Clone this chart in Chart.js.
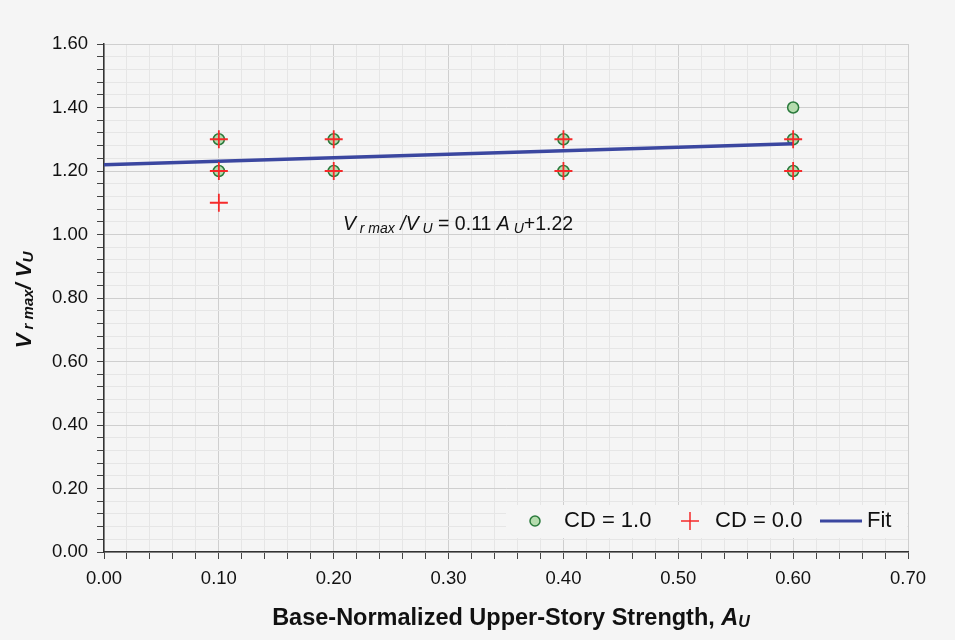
<!DOCTYPE html>
<html>
<head>
<meta charset="utf-8">
<script src="https://cdn.jsdelivr.net/npm/chart.js@4.4.1/dist/chart.umd.min.js"></script>
<style>
  html, body { margin: 0; padding: 0; background: #f5f5f5; }
  #wrap { width: 955px; height: 640px; }
</style>
</head>
<body>
<div id="wrap"><canvas id="chart" width="955" height="640"></canvas></div>
<script>
// data
const cd1X = [0.1, 0.1, 0.2, 0.2, 0.4, 0.4, 0.6, 0.6, 0.6]
const cd1Y = [1.3, 1.2, 1.3, 1.2, 1.3, 1.2, 1.4, 1.3, 1.2]
const cd0X = [0.1, 0.1, 0.1, 0.2, 0.2, 0.4, 0.4, 0.6, 0.6]
const cd0Y = [1.3, 1.2, 1.1, 1.3, 1.2, 1.3, 1.2, 1.3, 1.2]
const fitX = [0.0, 0.6]
const fitY = [1.22, 1.286]
const legendLabels = ['CD = 1.0', 'CD = 0.0', 'Fit']

const FONT = '"Liberation Sans", Arial, sans-serif'
const BG = '#f5f5f5'
const GREEN_FILL = '#b5dcae'
const GREEN_EDGE = '#2a7a3c'
const RED = '#f52a2a'
const BLUE = '#3b47a0'

const pts = (xs, ys) => xs.map((x, i) => ({ x: x, y: ys[i] }))
const isMajor = (v, step) => Math.abs(v / step - Math.round(v / step)) < 1e-6

// draw a run of text pieces: [text, fontSize, style, dy]
function richText(ctx, x, y, parts) {
  let cx = x
  parts.forEach(p => {
    ctx.font = `${p[2] || ''} ${p[1]}px ${FONT}`
    ctx.fillText(p[0], cx, y + (p[3] || 0))
    cx += ctx.measureText(p[0]).width
  })
  return cx - x
}
function richWidth(ctx, parts) {
  let w = 0
  parts.forEach(p => {
    ctx.font = `${p[2] || ''} ${p[1]}px ${FONT}`
    w += ctx.measureText(p[0]).width
  })
  return w
}

const decor = {
  id: 'decor',
  beforeDraw(chart) {
    const ctx = chart.ctx
    ctx.save()
    ctx.fillStyle = BG
    ctx.fillRect(0, 0, chart.width, chart.height)
    ctx.restore()
  },
  afterDraw(chart) {
    const ctx = chart.ctx
    const area = chart.chartArea
    const xs = chart.scales.x
    const ys = chart.scales.y
    ctx.save()
    ctx.fillStyle = '#111'
    ctx.textBaseline = 'middle'

    // equation
    richText(ctx, xs.getPixelForValue(0.208), ys.getPixelForValue(1.03), [
      ['V', 19.5, 'italic'], [' r max', 14, 'italic', 4], [' /V', 19.5, 'italic'],
      [' U', 14, 'italic', 4], [' = 0.11', 19.5], [' A', 19.5, 'italic'],
      [' U', 14, 'italic', 4], ['+1.22', 19.5]
    ])

    // x title
    const xt = [['Base-Normalized Upper-Story Strength, ', 23.5, 'bold'], ['A', 23.5, 'bold italic'], ['U', 16, 'bold italic', 4]]
    richText(ctx, 511 - richWidth(ctx, xt) / 2, 619, xt)

    // y title
    const yt = [['V', 22, 'bold italic'], [' r max', 15, 'bold italic', 4], ['/ V', 22, 'bold italic'], ['U', 15, 'bold italic', 4]]
    ctx.save()
    ctx.translate(25, 300)
    ctx.rotate(-Math.PI / 2)
    richText(ctx, -richWidth(ctx, yt) / 2, 0, yt)
    ctx.restore()

    // legend inside the plot, bottom right
    const ly = 521
    ctx.fillStyle = BG
    ctx.fillRect(506, 505, area.right - 507, 33)
    ctx.font = `22px ${FONT}`
    ctx.beginPath()
    ctx.arc(535, ly, 5, 0, Math.PI * 2)
    ctx.fillStyle = GREEN_FILL
    ctx.fill()
    ctx.strokeStyle = GREEN_EDGE
    ctx.lineWidth = 1.5
    ctx.stroke()
    ctx.fillStyle = '#111'
    ctx.fillText(legendLabels[0], 564, ly)
    ctx.strokeStyle = RED
    ctx.lineWidth = 1.5
    ctx.beginPath()
    ctx.moveTo(681, ly); ctx.lineTo(699, ly)
    ctx.moveTo(690, ly - 9); ctx.lineTo(690, ly + 9)
    ctx.stroke()
    ctx.fillText(legendLabels[1], 715, ly)
    ctx.strokeStyle = BLUE
    ctx.lineWidth = 3
    ctx.beginPath()
    ctx.moveTo(820, ly); ctx.lineTo(862, ly)
    ctx.stroke()
    ctx.fillText(legendLabels[2], 867, ly)
    ctx.restore()
  }
}

new Chart(document.getElementById('chart'), {
  type: 'scatter',
  data: {
    datasets: [
      {
        label: legendLabels[0],
        data: pts(cd1X, cd1Y),
        pointStyle: 'circle',
        pointRadius: 5.5,
        backgroundColor: GREEN_FILL,
        borderColor: GREEN_EDGE,
        borderWidth: 1.5,
        order: 2
      },
      {
        label: legendLabels[2],
        type: 'line',
        data: pts(fitX, fitY),
        borderColor: BLUE,
        borderWidth: 3.5,
        pointRadius: 0,
        fill: false,
        order: 1
      },
      {
        label: legendLabels[1],
        data: pts(cd0X, cd0Y),
        pointStyle: 'cross',
        pointRadius: 9,
        borderColor: RED,
        borderWidth: 1.8,
        order: 0
      }
    ]
  },
  options: {
    responsive: false,
    animation: false,
    layout: { padding: { top: 44, right: 47, left: 0, bottom: 0 } },
    plugins: {
      legend: { display: false },
      tooltip: { enabled: false }
    },
    scales: {
      x: {
        type: 'linear',
        min: 0,
        max: 0.7,
        afterFit: s => { s.height = 88 },
        border: { color: '#333', width: 1.5 },
        grid: {
          color: c => isMajor(c.tick.value, 0.1) ? '#cfcfcf' : '#e6e6e6',
          tickColor: '#444',
          tickLength: 7
        },
        ticks: {
          stepSize: 0.02,
          maxTicksLimit: 100,
          autoSkip: false,
          maxRotation: 0,
          padding: 9,
          color: '#111',
          font: { family: FONT, size: 18.5 },
          callback: v => isMajor(v, 0.1) ? v.toFixed(2) : ''
        }
      },
      y: {
        min: 0,
        max: 1.6,
        afterFit: s => { s.width = 104 },
        border: { color: '#333', width: 1.5 },
        grid: {
          color: c => isMajor(c.tick.value, 0.2) ? '#cfcfcf' : '#e6e6e6',
          tickColor: '#444',
          tickLength: 7
        },
        ticks: {
          stepSize: 0.04,
          maxTicksLimit: 100,
          autoSkip: false,
          padding: 9,
          color: '#111',
          font: { family: FONT, size: 18.5 },
          callback: v => isMajor(v, 0.2) ? v.toFixed(2) : ''
        }
      }
    }
  },
  plugins: [decor]
})
</script>
</body>
</html>
